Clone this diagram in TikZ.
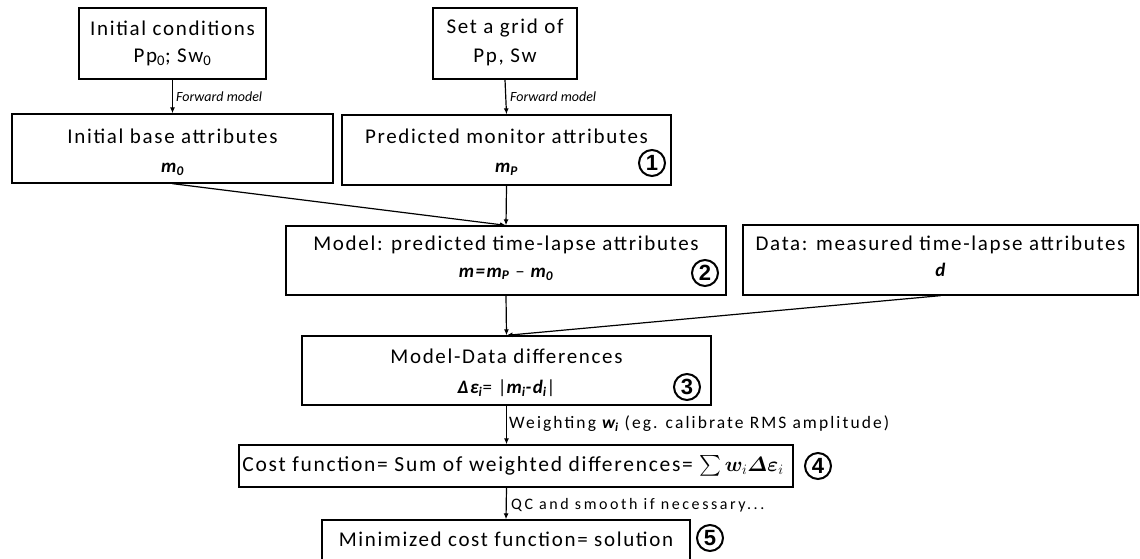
\documentclass[tikz,border=0pt]{standalone}
\usepackage{amsmath}
\usepackage{bm}
\usepackage{fontspec}
\setmainfont{Carlito}[LetterSpace=8]
\newfontfamily\numfont{Liberation Sans}
\usetikzlibrary{arrows.meta}
\newcommand{\bi}[1]{{\bfseries\itshape #1}}
\begin{document}
\begin{tikzpicture}[x=1pt,y=-1pt,
  box/.style={draw, line width=1.3pt, inner sep=0pt},
  txt/.style={inner sep=0pt, font=\fontsize{21}{24}\selectfont},
  mtxt/.style={inner sep=0pt, font=\fontsize{19}{22}\selectfont},
  lbl/.style={inner sep=0pt, anchor=west},
  arr/.style={line width=1.2pt, -{Latex[length=6pt,width=5pt]}},
  num/.style={draw, circle, line width=2pt, minimum size=26pt, inner sep=0pt, font=\numfont\bfseries\fontsize{22}{22}\selectfont}]
\useasboundingbox (0,0) rectangle (1140,558);
% boxes
\node[box, minimum width=187pt, minimum height=71pt] (ic) at (172.5,43.5) {};
\node[box, minimum width=144pt, minimum height=71pt] (grid) at (505,43.5) {};
\node[box, minimum width=321pt, minimum height=69pt] (base) at (172.5,148.5) {};
\node[box, minimum width=329pt, minimum height=70pt] (pred) at (506.5,150) {};
\node[box, minimum width=440pt, minimum height=69pt] (model) at (506,260.5) {};
\node[box, minimum width=395pt, minimum height=70pt] (data) at (940.5,260) {};
\node[box, minimum width=409pt, minimum height=69pt] (diff) at (506.5,370.5) {};
\node[box, minimum width=554pt, minimum height=42pt] (cost) at (516,466) {};
\node[box, minimum width=368pt, minimum height=40pt] (mini) at (506,540) {};
% texts
\node[txt] (t1a) at (172.5,28) {Initial conditions};
\node[txt] (t1b) at (172.5,57) {Pp\textsubscript{0}; Sw\textsubscript{0}};
\node[txt] (t2a) at (505,28) {Set a grid of};
\node[txt] (t2b) at (505,57) {Pp, Sw};
\node[txt] (t3a) at (172.5,136) {Initial base attributes};
\node[mtxt] (t3b) at (172.5,169) {\bi{m\textsubscript{0}}};
\node[txt] (t4a) at (506.5,136) {Predicted monitor attributes};
\node[mtxt] (t4b) at (506.5,169) {\bi{m\textsubscript{P}}};
\node[txt] (t5a) at (506,245) {Model: predicted time-lapse attributes};
\node[mtxt] (t5b) at (506,274) {\bi{m=m\textsubscript{P}} -- \bi{m\textsubscript{0}}};
\node[txt] (t6a) at (940.5,245) {Data: measured time-lapse attributes};
\node[mtxt] (t6b) at (940.5,270) {\bi{d}};
\node[txt] (t7a) at (506.5,356) {Model-Data differences};
\node[mtxt] (t7b) at (506.5,388) {\bi{Δε\textsubscript{i}}= |\bi{m\textsubscript{i}-d\textsubscript{i}}|};
\node[txt, font=\fontsize{21.5}{24}\selectfont] (t8) at (513,466) {Cost function= Sum of weighted differences= $\sum \bm{w}_{i}\bm{\varDelta\varepsilon}_{i}$};
\node[txt] (t9) at (506,539) {Minimized cost function= solution};
% numbers
\node[num] (n1) at (652,163) {1};
\node[num] (n2) at (705,273) {2};
\node[num] (n3) at (687,387) {3};
\node[num] (n4) at (818,466) {4};
\node[num] (n5) at (710,538) {5};
% connectors
\draw[arr] (ic.south) -- (base.north);
\draw[arr] (grid.south) -- (pred.north);
\draw[arr] (pred.south) -- (model.north);
\draw[arr] (base.south) -- (model.north);
\draw[arr] (model.south) -- (diff.north);
\draw[arr] (data.south) -- (diff.north);
\draw[arr] (diff.south) -- (diff.south |- cost.north);
\draw[arr] (diff.south |- cost.south) -- (mini.north);
% labels
\node[lbl, font=\addfontfeatures{LetterSpace=0}\itshape\fontsize{14}{16}\selectfont] (f1) at (176,97) {Forward model};
\node[lbl, font=\addfontfeatures{LetterSpace=0}\itshape\fontsize{14}{16}\selectfont] (f2) at (510,97) {Forward model};
\node[lbl, font=\addfontfeatures{LetterSpace=12}\fontsize{17.5}{19}\selectfont] (w) at (509,424) {Weighting \bi{w\textsubscript{i}} (eg. calibrate RMS amplitude)};
\node[lbl, font=\addfontfeatures{LetterSpace=16}\fontsize{16}{18}\selectfont] (qc) at (511,505) {QC and smooth if necessary...};
\end{tikzpicture}
\end{document}
